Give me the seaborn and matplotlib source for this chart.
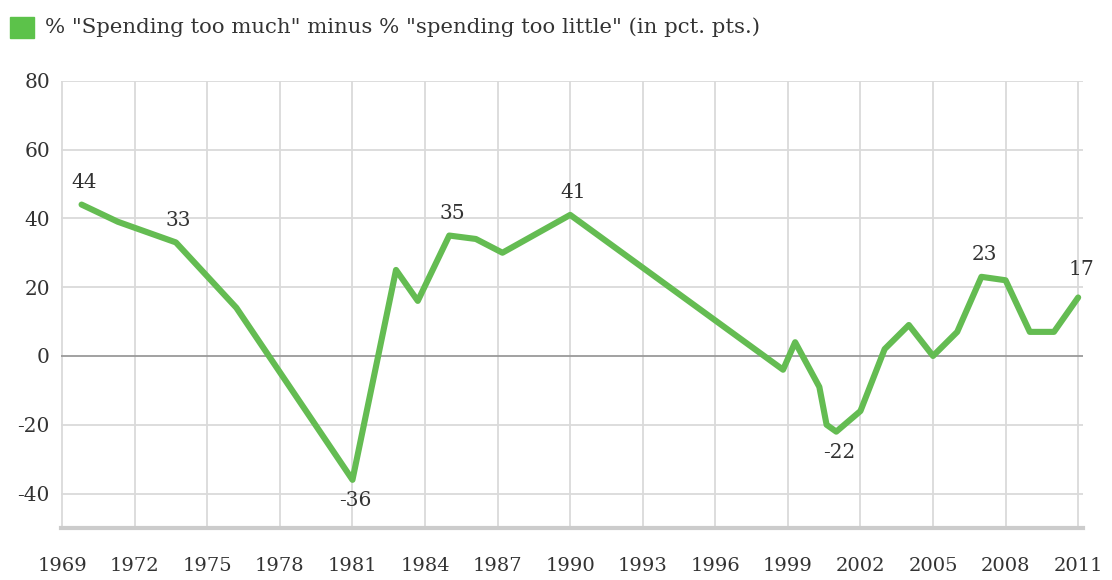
import matplotlib
matplotlib.use("Agg")
import matplotlib.pyplot as plt
import seaborn as sns
import pandas as pd
import numpy as np

# --- data ---
years = [1969.8, 1971.3, 1973.7, 1976.2, 1981.0, 1982.8, 1983.7, 1985.0, 1986.1,
         1987.2, 1990.0, 1998.8, 1999.3, 2000.3, 2000.6, 2001.0, 2002.0, 2003.0,
         2004.0, 2005.0, 2006.0, 2007.0, 2008.0, 2009.0, 2010.0, 2011.0]
values = [44, 39, 33, 14, -36, 25, 16, 35, 34,
          30, 41, -4, 4, -9, -20, -22, -16, 2,
          9, 0, 7, 23, 22, 7, 7, 17]
label_idx = [0, 2, 4, 7, 10, 15, 21, 25]
x_ticks = list(range(1969, 2012, 3))
y_ticks = [80, 60, 40, 20, 0, -20, -40]
series_name = '% "Spending too much" minus % "spending too little" (in pct. pts.)'

df = pd.DataFrame({"year": years, "value": values})

sns.set_theme(style="white")
plt.rcParams["font.family"] = ["DejaVu Serif"]

fig = plt.figure(figsize=(11.12, 5.8), dpi=100)
ax = fig.add_axes([61 / 1112, 1 - 528 / 580, (1083 - 61) / 1112, (528 - 80.7) / 580])

green = "#64bc52"
grid_c = "#dadada"
text_c = "#333333"

# grid
for xt in x_ticks:
    ax.axvline(xt, color=grid_c, lw=1.3, zorder=1)
for yt in y_ticks:
    ax.axhline(yt, color="#9a9a9a" if yt == 0 else grid_c, lw=1.3, zorder=1)

sns.lineplot(data=df, x="year", y="value", ax=ax, color=green, lw=4.4,
             zorder=3, legend=False)

for i in label_idx:
    v = values[i]
    dy = 16 if v > 0 else -15
    if i == len(values) - 1:
        dy = 20
    ax.annotate(str(v), (years[i], v), xytext=(2, dy), textcoords="offset points",
                ha="center", va="center", fontsize=14.5, color=text_c, zorder=4)

ax.set_xlim(1968.95, 2011.2)
ax.set_ylim(-50, 80)
ax.set_xticks(x_ticks)
ax.set_xticklabels([str(t) for t in x_ticks])
ax.set_yticks(y_ticks)
ax.set_yticklabels([str(t) for t in y_ticks])
ax.tick_params(axis="x", length=0, pad=21, labelsize=14, colors=text_c)
ax.tick_params(axis="y", length=0, pad=8, labelsize=14.5, colors=text_c)
ax.set_xlabel("")
ax.set_ylabel("")

for s in ["top", "right", "left"]:
    ax.spines[s].set_visible(False)
ax.spines["bottom"].set_color("#cccccc")
ax.spines["bottom"].set_linewidth(3)
ax.spines["bottom"].set_zorder(2)

# legend
fig.patches.append(plt.Rectangle((10 / 1112, 1 - 38 / 580), 24 / 1112, 21 / 580,
                                 transform=fig.transFigure, color="#5cc24a"))
fig.text(45 / 1112, 1 - 27 / 580, series_name, ha="left", va="center",
         fontsize=15.3, color=text_c)

fig.savefig("out.png", dpi=100, facecolor="white")
